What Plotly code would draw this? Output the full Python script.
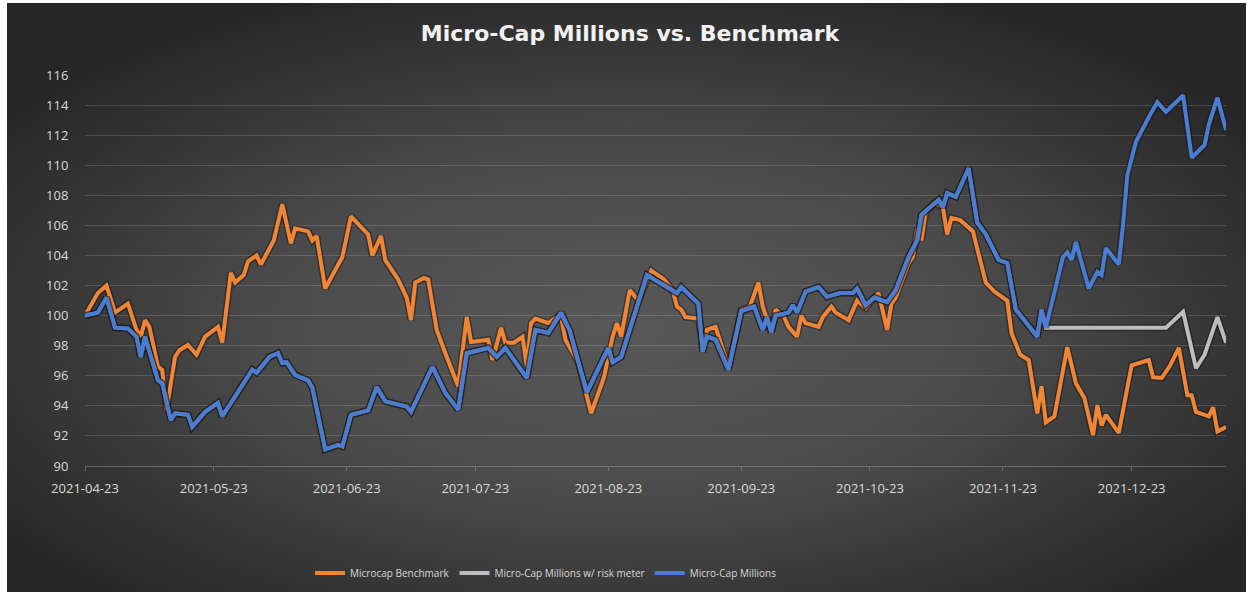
import base64
import plotly.graph_objects as go

# ---------------- data ----------------
bench_dates = [
    "2021-04-23", "2021-04-26", "2021-04-28", "2021-04-30", "2021-05-03", "2021-05-05", "2021-05-06",
    "2021-05-07", "2021-05-08", "2021-05-10", "2021-05-11", "2021-05-12", "2021-05-14", "2021-05-15",
    "2021-05-17", "2021-05-19", "2021-05-21", "2021-05-24", "2021-05-25", "2021-05-27", "2021-05-28",
    "2021-05-30", "2021-05-31", "2021-06-02", "2021-06-03", "2021-06-06", "2021-06-08", "2021-06-10",
    "2021-06-11", "2021-06-14", "2021-06-15", "2021-06-16", "2021-06-18", "2021-06-22", "2021-06-24",
    "2021-06-28", "2021-06-29", "2021-07-01", "2021-07-02", "2021-07-05", "2021-07-07", "2021-07-08",
    "2021-07-09", "2021-07-11", "2021-07-12", "2021-07-14", "2021-07-16", "2021-07-19", "2021-07-21",
    "2021-07-22", "2021-07-26", "2021-07-27", "2021-07-29", "2021-07-30", "2021-08-01", "2021-08-03",
    "2021-08-04", "2021-08-05", "2021-08-06", "2021-08-09", "2021-08-11", "2021-08-12", "2021-08-13",
    "2021-08-16", "2021-08-19", "2021-08-22", "2021-08-24", "2021-08-25", "2021-08-26", "2021-08-28",
    "2021-08-30", "2021-09-02", "2021-09-05", "2021-09-07", "2021-09-08", "2021-09-09", "2021-09-10",
    "2021-09-13", "2021-09-14", "2021-09-15", "2021-09-17", "2021-09-20", "2021-09-23", "2021-09-25",
    "2021-09-27", "2021-09-28", "2021-09-30", "2021-10-01", "2021-10-03", "2021-10-04", "2021-10-06",
    "2021-10-07", "2021-10-08", "2021-10-11", "2021-10-12", "2021-10-14", "2021-10-15", "2021-10-18",
    "2021-10-20", "2021-10-22", "2021-10-25", "2021-10-27", "2021-10-28", "2021-10-29", "2021-11-01",
    "2021-11-02", "2021-11-03", "2021-11-04", "2021-11-05", "2021-11-07", "2021-11-09", "2021-11-10",
    "2021-11-11", "2021-11-13", "2021-11-16", "2021-11-19", "2021-11-21", "2021-11-24", "2021-11-25",
    "2021-11-27", "2021-11-29", "2021-12-01", "2021-12-02", "2021-12-03", "2021-12-05", "2021-12-06",
    "2021-12-08", "2021-12-10", "2021-12-12", "2021-12-14", "2021-12-15", "2021-12-16", "2021-12-17",
    "2021-12-20", "2021-12-22", "2021-12-23", "2021-12-27", "2021-12-28", "2021-12-30", "2022-01-01",
    "2022-01-03", "2022-01-05", "2022-01-06", "2022-01-07", "2022-01-10", "2022-01-11", "2022-01-12",
    "2022-01-14",
]
bench_vals = [
    100.0, 101.5, 102.0, 100.2, 100.8, 99.05, 98.6,
    99.7, 99.25, 96.6, 96.4, 93.7, 97.25, 97.7,
    98.05, 97.4, 98.6, 99.25, 98.2, 102.85, 102.2,
    102.7, 103.6, 104.0, 103.4, 105.0, 107.4, 104.8,
    105.8, 105.6, 105.0, 105.3, 101.8, 103.9, 106.6,
    105.4, 104.0, 105.3, 103.7, 102.4, 101.2, 99.7,
    102.2, 102.5, 102.4, 99.05, 97.5, 95.3, 99.9,
    98.25, 98.4, 97.05, 99.2, 98.2, 98.2, 98.6,
    96.6, 99.5, 99.8, 99.5, 99.9, 99.9, 98.4,
    96.9, 93.5, 95.9, 98.6, 99.5, 98.6, 101.7,
    101.0, 103.0, 102.4, 101.7, 100.6, 100.4, 99.9,
    99.8, 97.9, 99.05, 99.25, 96.6, 100.4, 100.6,
    102.2, 100.6, 98.9, 100.4, 99.9, 99.25, 98.6,
    100.0, 99.5, 99.25, 99.9, 100.6, 100.2, 99.7,
    101.0, 100.5, 101.5, 99.05, 100.8, 101.2, 103.5,
    103.9, 105.8, 105.0, 106.9, 107.5, 107.2, 105.4,
    106.5, 106.35, 105.6, 102.2, 101.6, 101.0, 98.85,
    97.4, 97.05, 93.5, 95.3, 92.9, 93.3, 94.85,
    97.9, 95.5, 94.5, 92.05, 94.05, 92.7, 93.4,
    92.2, 95.4, 96.7, 97.05, 95.9, 95.85, 96.7,
    97.85, 94.7, 94.7, 93.6, 93.3, 93.9, 92.3,
    92.6,
]

mcm_dates = [
    "2021-04-23", "2021-04-26", "2021-04-28", "2021-04-30", "2021-05-03", "2021-05-05", "2021-05-06",
    "2021-05-07", "2021-05-10", "2021-05-11", "2021-05-13", "2021-05-14", "2021-05-17", "2021-05-18",
    "2021-05-21", "2021-05-24", "2021-05-25", "2021-05-28", "2021-06-01", "2021-06-02", "2021-06-05",
    "2021-06-07", "2021-06-08", "2021-06-09", "2021-06-11", "2021-06-14", "2021-06-15", "2021-06-18",
    "2021-06-21", "2021-06-22", "2021-06-24", "2021-06-28", "2021-06-30", "2021-07-02", "2021-07-07",
    "2021-07-08", "2021-07-13", "2021-07-16", "2021-07-19", "2021-07-21", "2021-07-26", "2021-07-28",
    "2021-07-30", "2021-08-04", "2021-08-06", "2021-08-09", "2021-08-12", "2021-08-14", "2021-08-18",
    "2021-08-23", "2021-08-24", "2021-08-26", "2021-09-01", "2021-09-08", "2021-09-09", "2021-09-13",
    "2021-09-14", "2021-09-15", "2021-09-17", "2021-09-20", "2021-09-23", "2021-09-26", "2021-09-28",
    "2021-09-29", "2021-09-30", "2021-10-01", "2021-10-04", "2021-10-05", "2021-10-06", "2021-10-08",
    "2021-10-11", "2021-10-13", "2021-10-16", "2021-10-19", "2021-10-20", "2021-10-22", "2021-10-24",
    "2021-10-27", "2021-10-29", "2021-11-01", "2021-11-03", "2021-11-04", "2021-11-08", "2021-11-09",
    "2021-11-10", "2021-11-12", "2021-11-15", "2021-11-17", "2021-11-19", "2021-11-22", "2021-11-24",
    "2021-11-26", "2021-12-01", "2021-12-02", "2021-12-03", "2021-12-07", "2021-12-08", "2021-12-09",
    "2021-12-10", "2021-12-13", "2021-12-15", "2021-12-16", "2021-12-17", "2021-12-20", "2021-12-21",
    "2021-12-22", "2021-12-24", "2021-12-27", "2021-12-29", "2021-12-31", "2022-01-04", "2022-01-06",
    "2022-01-09", "2022-01-10", "2022-01-12", "2022-01-14",
]
mcm_vals = [
    100.0, 100.2, 101.2, 99.2, 99.15, 98.6, 97.25,
    98.6, 95.7, 95.5, 93.05, 93.5, 93.4, 92.6,
    93.6, 94.2, 93.3, 94.6, 96.4, 96.2, 97.25,
    97.5, 96.85, 96.9, 96.05, 95.7, 95.2, 91.1,
    91.4, 91.3, 93.4, 93.7, 95.25, 94.3, 93.95,
    93.6, 96.6, 94.85, 93.75, 97.5, 97.85, 97.25,
    97.85, 95.85, 99.05, 98.85, 100.2, 99.0, 94.9,
    97.85, 96.9, 97.25, 102.7, 101.5, 101.9, 100.8,
    97.6, 98.6, 98.4, 96.4, 100.3, 100.6, 99.05,
    99.9, 98.9, 100.0, 100.2, 100.7, 100.2, 101.6,
    101.9, 101.25, 101.5, 101.5, 101.8, 100.7, 101.2,
    100.9, 101.7, 103.9, 105.0, 106.7, 107.7, 107.2,
    108.15, 107.9, 109.8, 106.2, 105.4, 103.7, 103.5,
    100.4, 98.6, 100.4, 99.2, 103.9, 104.2, 103.7,
    104.9, 101.8, 102.9, 102.7, 104.5, 103.4, 106.05,
    109.35, 111.55, 113.2, 114.2, 113.55, 114.65, 110.5,
    111.35, 112.7, 114.5, 112.35,
]

# risk-meter series follows Micro-Cap Millions until it goes flat
risk_split_date = "2021-12-03"
risk_tail_dates = ["2021-12-31", "2022-01-04", "2022-01-07", "2022-01-09", "2022-01-12", "2022-01-14"]
risk_tail_vals = [99.2, 100.25, 96.5, 97.4, 99.9, 98.2]

k = mcm_dates.index(risk_split_date) + 1
risk_dates = mcm_dates[:k] + risk_tail_dates
risk_vals = mcm_vals[:k] + risk_tail_vals

tick_dates = ["2021-04-23", "2021-05-23", "2021-06-23", "2021-07-23", "2021-08-23",
              "2021-09-23", "2021-10-23", "2021-11-23", "2021-12-23"]
y_ticks = list(range(90, 117, 2))

series = [
    ("Microcap Benchmark", bench_dates, bench_vals, "#EF8535"),
    ("Micro-Cap Millions w/ risk meter", risk_dates, risk_vals, "#BDBDBD"),
    ("Micro-Cap Millions", mcm_dates, mcm_vals, "#4A7CD2"),
]

# ---------------- background (radial gradient, like the Excel dark style) ----------------
W, H = 1252, 595
svg = f'''<svg xmlns="http://www.w3.org/2000/svg" width="{W}" height="{H}" viewBox="0 0 {W} {H}">
<defs><radialGradient id="g" cx="0.5" cy="0.55" r="0.62" fx="0.5" fy="0.55">
<stop offset="0" stop-color="#585858"/><stop offset="0.45" stop-color="#4c4c4c"/>
<stop offset="1" stop-color="#262626"/></radialGradient></defs>
<rect x="0" y="0" width="{W}" height="{H}" fill="#ffffff"/>
<rect x="7" y="3" width="1239" height="589" fill="url(#g)"/></svg>'''
bg_src = "data:image/svg+xml;base64," + base64.b64encode(svg.encode()).decode()

ML, MR, MT, MB = 85, 26, 75, 129
PW, PH = W - ML - MR, H - MT - MB

fig = go.Figure()
for name, xs, ys, col in series:
    fig.add_trace(go.Scatter(x=xs, y=ys, mode="lines", showlegend=False, hoverinfo="skip",
                             line=dict(color="rgba(20,20,20,0.45)", width=7)))
    fig.add_trace(go.Scatter(x=xs, y=ys, mode="lines", name=name,
                             line=dict(color=col, width=4)))

fig.update_layout(
    width=W, height=H,
    margin=dict(l=ML, r=MR, t=MT, b=MB, autoexpand=False),
    paper_bgcolor="#ffffff",
    plot_bgcolor="rgba(0,0,0,0)",
    font=dict(family="Open Sans, Noto Sans, sans-serif", color="#D9D9D9"),
    title=dict(text="<b>Micro-Cap Millions vs. Benchmark</b>", x=630 / W, xanchor="center",
               y=1 - 33 / H, yanchor="middle",
               font=dict(size=22, color="#F2F2F2", family="DejaVu Sans, sans-serif")),
    images=[dict(source=bg_src, xref="paper", yref="paper",
                 x=-ML / PW, y=1 + MT / PH, sizex=W / PW, sizey=H / PH,
                 xanchor="left", yanchor="top", sizing="stretch", layer="below")],
    legend=dict(orientation="h", xref="container", yref="container",
                x=310 / W, xanchor="left", y=1 - 573 / H, yanchor="middle",
                font=dict(size=10, color="#D9D9D9"),
                bgcolor="rgba(0,0,0,0)", itemwidth=30, tracegroupgap=0),
    xaxis=dict(type="date", range=["2021-04-23", "2022-01-14"],
               tickvals=tick_dates, tickformat="%Y-%m-%d",
               showgrid=False, zeroline=False,
               showline=True, linecolor="rgba(217,217,217,0.28)", linewidth=1,
               ticks="outside", ticklen=4, tickcolor="rgba(217,217,217,0.28)",
               tickfont=dict(size=13, color="#D9D9D9"), ticklabelstandoff=6),
    yaxis=dict(range=[90, 116], tickvals=y_ticks, showgrid=True,
               gridcolor="rgba(217,217,217,0.18)", gridwidth=1, zeroline=False,
               showline=False, ticks="outside", ticklen=13, tickcolor="rgba(0,0,0,0)",
               tickfont=dict(size=13, color="#D9D9D9")),
)

fig.write_html("out.html", config={"displayModeBar": False},
               post_script="document.body.style.margin='0';")
